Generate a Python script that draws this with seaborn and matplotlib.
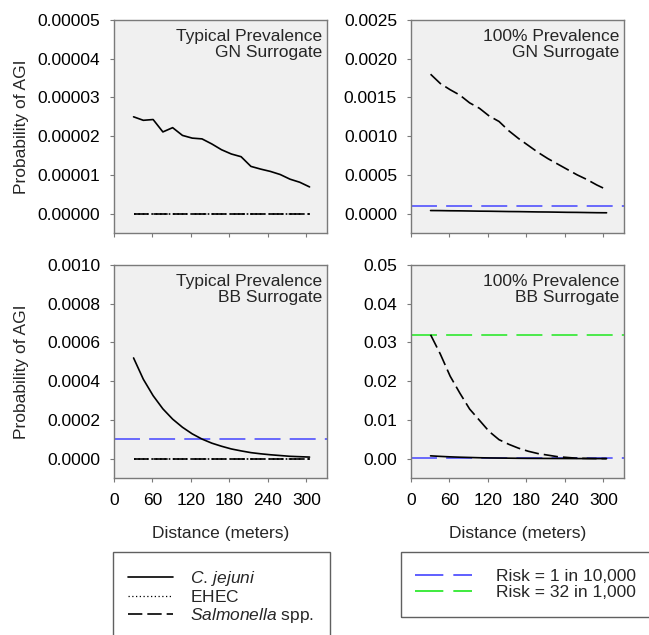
"""
Probability of AGI vs. distance, four panels (prevalence x surrogate).
"""

import matplotlib
matplotlib.use('Agg')
import matplotlib.pyplot as plt
import numpy as np
import pandas as pd
import seaborn as sns
from matplotlib.lines import Line2D
from matplotlib.patches import Rectangle
from matplotlib.ticker import FormatStrFormatter

# Distances (m) at which the model was evaluated
distance_m = [30.5, 45.7, 61.0, 76.2, 91.4, 106.7, 121.9, 137.2, 152.4, 167.6,
              182.9, 198.1, 213.4, 228.6, 243.8, 259.1, 274.3, 289.6, 304.8]

# Typical prevalence, GN surrogate
typical_gn_cjejuni = [2.50e-5, 2.41e-5, 2.43e-5, 2.11e-5, 2.22e-5, 2.02e-5, 1.95e-5,
                      1.93e-5, 1.80e-5, 1.65e-5, 1.54e-5, 1.47e-5, 1.22e-5, 1.15e-5,
                      1.09e-5, 1.01e-5, 0.89e-5, 0.81e-5, 0.69e-5]
typical_gn_ehec = [0.0] * 19
typical_gn_salmonella = [0.0] * 19

# 100% prevalence, GN surrogate
full_gn_cjejuni = [4.0e-5, 3.9e-5, 3.7e-5, 3.6e-5, 3.4e-5, 3.2e-5, 3.1e-5, 2.9e-5,
                   2.7e-5, 2.6e-5, 2.4e-5, 2.2e-5, 2.1e-5, 1.9e-5, 1.7e-5, 1.6e-5,
                   1.4e-5, 1.2e-5, 1.1e-5]
full_gn_salmonella = [0.00180, 0.00168, 0.00160, 0.00153, 0.00143, 0.00136, 0.00126,
                      0.00119, 0.00107, 0.00097, 0.00088, 0.00079, 0.00071, 0.00064,
                      0.00057, 0.00050, 0.00044, 0.00037, 0.00031]

# Typical prevalence, BB surrogate
typical_bb_cjejuni = [520e-6, 410e-6, 325e-6, 257e-6, 204e-6, 162e-6, 128e-6, 101e-6,
                      80e-6, 64e-6, 50e-6, 40e-6, 31e-6, 25e-6, 20e-6, 16e-6, 12e-6,
                      10e-6, 8e-6]
typical_bb_ehec = [0.0] * 19
typical_bb_salmonella = [0.0] * 19

# 100% prevalence, BB surrogate
full_bb_cjejuni = [0.00072, 0.00058, 0.00046, 0.00037, 0.00030, 0.00023, 0.00018,
                   0.00015, 0.00012, 0.00009, 0.00007, 0.00006, 0.00005, 0.00004,
                   0.00003, 0.00002, 0.00002, 0.00001, 0.00001]
full_bb_salmonella = [0.0320, 0.0270, 0.0213, 0.0169, 0.0128, 0.0099, 0.0070, 0.0049,
                      0.0037, 0.0027, 0.0019, 0.0013, 0.0009, 0.0005, 0.0003, 0.0001,
                      0.00005, 0.00002, 0.00001]

# Risk benchmarks
risk_labels = ['Risk = 1 in 10,000', 'Risk = 32 in 1,000']
risk_values = [1e-4, 0.032]
risk_colors = ['#4444ff', '#1ee81e']

organisms = ['C. jejuni', 'EHEC', 'Salmonella spp.']
organism_labels = [r'$\mathit{C.\,jejuni}$', r'$\mathrm{EHEC}$',
                   r'$\mathit{Salmonella}$ spp.']
organism_dashes = {'C. jejuni': '', 'EHEC': (1, 1.6), 'Salmonella spp.': (8.6, 3.0)}

panels = [
    ('Typical Prevalence\nGN Surrogate',
     {'C. jejuni': typical_gn_cjejuni, 'EHEC': typical_gn_ehec,
      'Salmonella spp.': typical_gn_salmonella},
     (-0.000005, 0.00005), 0.00001, '%.5f'),
    ('100% Prevalence\nGN Surrogate',
     {'C. jejuni': full_gn_cjejuni, 'Salmonella spp.': full_gn_salmonella},
     (-0.00025, 0.0025), 0.0005, '%.4f'),
    ('Typical Prevalence\nBB Surrogate',
     {'C. jejuni': typical_bb_cjejuni, 'EHEC': typical_bb_ehec,
      'Salmonella spp.': typical_bb_salmonella},
     (-0.0001, 0.001), 0.0002, '%.4f'),
    ('100% Prevalence\nBB Surrogate',
     {'C. jejuni': full_bb_cjejuni, 'Salmonella spp.': full_bb_salmonella},
     (-0.005, 0.05), 0.01, '%.2f'),
]

sns.set_style('ticks')
plt.rcParams['font.family'] = ['Liberation Sans', 'DejaVu Sans']
plt.rcParams['mathtext.fontset'] = 'custom'
plt.rcParams['mathtext.rm'] = 'Liberation Sans'
plt.rcParams['mathtext.it'] = 'Liberation Sans:italic'
plt.rcParams['font.size'] = 12.5

W, H = 649, 635
fig = plt.figure(figsize=(W / 100, H / 100), dpi=100)

# axes boxes in pixels: (left, top)
boxes = [(114, 20), (411, 20), (114, 265), (411, 265)]
ax_w, ax_h = 213, 213
spine_color = '#7a7a7a'

for i, (title, series, ylim, ystep, fmt) in enumerate(panels):
    left, top = boxes[i]
    ax = fig.add_axes([left / W, 1 - (top + ax_h) / H, ax_w / W, ax_h / H])
    ax.set_facecolor('#f0f0f0')

    for value, color in zip(risk_values, risk_colors):
        ax.axhline(value, color=color, lw=1.1, dashes=(17, 6), zorder=1.5)

    rows = []
    for org, vals in series.items():
        for d, v in zip(distance_m, vals):
            rows.append({'distance': d, 'prob': v, 'organism': org})
    df = pd.DataFrame(rows)
    sns.lineplot(data=df, x='distance', y='prob', style='organism',
                 dashes=organism_dashes, color='black', linewidth=1.2,
                 estimator=None, legend=False, ax=ax, zorder=2)

    ax.set_xlim(0, 332)
    ax.set_ylim(*ylim)
    ax.set_xticks(np.arange(0, 301, 60))
    ax.set_yticks(np.arange(0, ylim[1] + ystep / 2, ystep))
    ax.yaxis.set_major_formatter(FormatStrFormatter(fmt))
    for sp in ax.spines.values():
        sp.set_visible(True)
        sp.set_color(spine_color)
        sp.set_linewidth(1.0)
    ax.tick_params(axis='both', direction='out', length=3, width=0.8,
                   color=spine_color, labelsize=12.5, labelcolor='black')
    ax.tick_params(axis='y', pad=7)
    ax.tick_params(axis='x', pad=8)

    ax.text(0.977, 0.958, title, transform=ax.transAxes, ha='right', va='top',
            fontsize=12.5, linespacing=1.12)

    if i in (0, 2):
        ax.set_ylabel('Probability of AGI', fontsize=12.5)
        ax.yaxis.set_label_coords(-0.40, 0.5)
    else:
        ax.set_ylabel('')
    if i in (2, 3):
        ax.set_xlabel('Distance (meters)', fontsize=12.5)
        ax.xaxis.set_label_coords(0.5, -0.225)
    else:
        ax.set_xlabel('')
        ax.set_xticklabels([])

# legend frames (drawn by hand so they match the original boxes)
fig.patches.append(Rectangle((113 / W, 1 - 640 / H), 217 / W, 88 / H,
                             transform=fig.transFigure, fill=False,
                             edgecolor='#606060', lw=1.0, clip_on=False))
fig.patches.append(Rectangle((401 / W, 1 - 617 / H), 251 / W, 65 / H,
                             transform=fig.transFigure, fill=False,
                             edgecolor='#606060', lw=1.0, clip_on=False))

org_handles = [Line2D([], [], color='black', lw=1.2, linestyle='-'),
               Line2D([], [], color='black', lw=0.9, dashes=(1, 2.0)),
               Line2D([], [], color='black', lw=1.2, dashes=(8.6, 3.0))]
fig.legend(org_handles, organism_labels, loc='upper left',
           bbox_to_anchor=(119 / W, 1 - 560 / H), frameon=False,
           fontsize=12.5, handlelength=2.6, handletextpad=1.0,
           labelspacing=0.08, borderpad=0)

risk_handles = [Line2D([], [], color=c, lw=1.2, dashes=(17, 6)) for c in risk_colors]
fig.legend(risk_handles, risk_labels, loc='upper left',
           bbox_to_anchor=(406 / W, 1 - 560 / H), frameon=False, fontsize=12.5,
           handlelength=3.3, handletextpad=1.4, labelspacing=0.05, borderpad=0)

fig.savefig('out.png', dpi=100)
